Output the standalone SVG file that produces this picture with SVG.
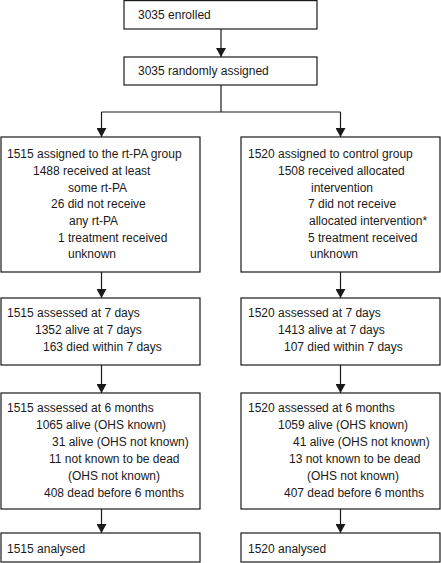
<svg xmlns="http://www.w3.org/2000/svg" width="441" height="563" viewBox="0 0 441 563">
<defs>
<marker id="ah" viewBox="0 0 10 10" refX="10" refY="5" markerWidth="9" markerHeight="10" markerUnits="userSpaceOnUse" orient="auto" preserveAspectRatio="none">
<path d="M0,0 L10,5 L0,10 Z" fill="#1a1a1a"/>
</marker>
</defs>
<style>
rect{fill:#fff;stroke:#1a1a1a;stroke-width:1.2}
text{font-family:"Liberation Sans",Arial,sans-serif;font-size:12px;fill:#1a1a1a}
.c line,.c polyline{stroke:#1a1a1a;stroke-width:1.2;fill:none}
.c .a{marker-end:url(#ah)}
</style>
<rect width="441" height="563" style="fill:#fff;stroke:none"/>
<g class="c" id="connectors">
<line class="a" x1="221" y1="29" x2="221" y2="57"/>
<polyline points="221,85 221,112"/>
<polyline points="101.5,112 340.5,112"/>
<line class="a" x1="101.5" y1="112" x2="101.5" y2="137"/>
<line class="a" x1="340.5" y1="112" x2="340.5" y2="137"/>
<line class="a" x1="101.5" y1="272" x2="101.5" y2="298"/>
<line class="a" x1="340.5" y1="272" x2="340.5" y2="298"/>
<line class="a" x1="101.5" y1="365" x2="101.5" y2="393"/>
<line class="a" x1="340.5" y1="365" x2="340.5" y2="393"/>
<line class="a" x1="101.5" y1="509" x2="101.5" y2="533"/>
<line class="a" x1="340.5" y1="509" x2="340.5" y2="533"/>
</g>
<g id="enrolled">
<rect x="124" y="0.6" width="193" height="28.4"/>
<text x="138" y="19">3035 enrolled</text>
</g>
<g id="randomised">
<rect x="124" y="57" width="193" height="28"/>
<text x="138" y="75">3035 randomly assigned</text>
</g>
<g id="rtpa-alloc">
<rect x="1" y="137" width="199" height="135"/>
<text x="7" y="158">1515 assigned to the rt-PA group</text>
<text x="33" y="175">1488 received at least</text>
<text x="68" y="192">some rt-PA</text>
<text x="51" y="208">26 did not receive</text>
<text x="69" y="225">any rt-PA</text>
<text x="58" y="242">1 treatment received</text>
<text x="68" y="258">unknown</text>
</g>
<g id="control-alloc">
<rect x="241" y="137" width="199" height="135"/>
<text x="248" y="158">1520 assigned to control group</text>
<text x="278" y="175">1508 received allocated</text>
<text x="311" y="192">intervention</text>
<text x="308" y="208">7 did not receive</text>
<text x="309" y="225">allocated intervention*</text>
<text x="308" y="242">5 treatment received</text>
<text x="310" y="258">unknown</text>
</g>
<g id="rtpa-7d">
<rect x="1" y="298" width="199" height="67"/>
<text x="7" y="317">1515 assessed at 7 days</text>
<text x="35" y="334">1352 alive at 7 days</text>
<text x="43" y="351">163 died within 7 days</text>
</g>
<g id="control-7d">
<rect x="241" y="298" width="199" height="67"/>
<text x="248" y="317">1520 assessed at 7 days</text>
<text x="278" y="334">1413 alive at 7 days</text>
<text x="284" y="351">107 died within 7 days</text>
</g>
<g id="rtpa-6m">
<rect x="1" y="393" width="199" height="116"/>
<text x="7" y="412">1515 assessed at 6 months</text>
<text x="36" y="429">1065 alive (OHS known)</text>
<text x="52" y="446">31 alive (OHS not known)</text>
<text x="49" y="463">11 not known to be dead</text>
<text x="68" y="480">(OHS not known)</text>
<text x="44" y="497">408 dead before 6 months</text>
</g>
<g id="control-6m">
<rect x="241" y="393" width="199" height="116"/>
<text x="248" y="412">1520 assessed at 6 months</text>
<text x="278" y="429">1059 alive (OHS known)</text>
<text x="293" y="446">41 alive (OHS not known)</text>
<text x="289" y="463">13 not known to be dead</text>
<text x="307" y="480">(OHS not known)</text>
<text x="284" y="497">407 dead before 6 months</text>
</g>
<g id="rtpa-analysed">
<rect x="1" y="533" width="199" height="29"/>
<text x="7" y="553">1515 analysed</text>
</g>
<g id="control-analysed">
<rect x="241" y="533" width="199" height="29"/>
<text x="248" y="553">1520 analysed</text>
</g>
</svg>
